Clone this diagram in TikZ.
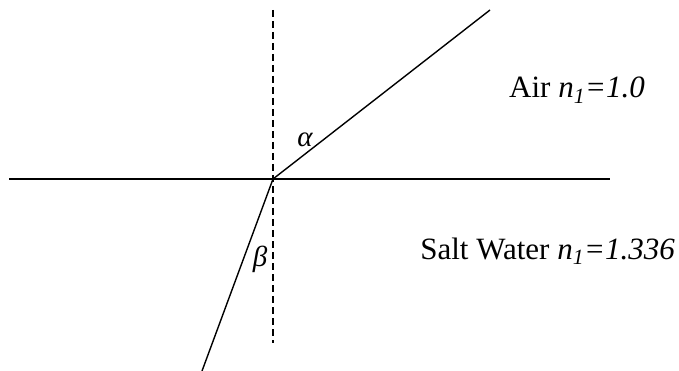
\documentclass[tikz,border=0pt]{standalone}
\usepackage{fontspec}
\setmainfont{Liberation Serif}
\usetikzlibrary{positioning}

\begin{document}
\begin{tikzpicture}[x=1pt,y=-1pt]
\tikzstyle{ray} = [line width=1.4pt];
\tikzstyle{normalline} = [line width=1.2pt, dash pattern=on 7pt off 4pt];
\tikzstyle{medium} = [font=\fontsize{31}{36}\selectfont, inner sep=0pt, anchor=base east];
\tikzstyle{angle} = [font=\fontsize{29}{34}\selectfont\itshape, inner sep=0pt];

\useasboundingbox (0,0) rectangle (679,371);

% interface and normal
\coordinate (o) at (273,179);
\coordinate (left) at (9,179);
\coordinate (right) at (610,179);
\coordinate (top) at (273,10);
\coordinate (bottom) at (273,343);
\draw[ray] (left) -- (right);
\draw[normalline] (top) -- (bottom);

% rays
\coordinate (inc) at (490,10);
\coordinate (refr) at (202,371);
\draw[ray] (o) -- (inc);
\draw[ray] (o) -- (refr);

\node (alpha) [angle] at (305,140) {α};
\node (beta) [angle] at (260,259) {β};

\node (air) [medium] at (645,98) {Air \textit{n\textsubscript{1}=1.0}};
\node (water) [medium] at (675,259) {Salt Water \textit{n\textsubscript{1}=1.336}};
\end{tikzpicture}
\end{document}
